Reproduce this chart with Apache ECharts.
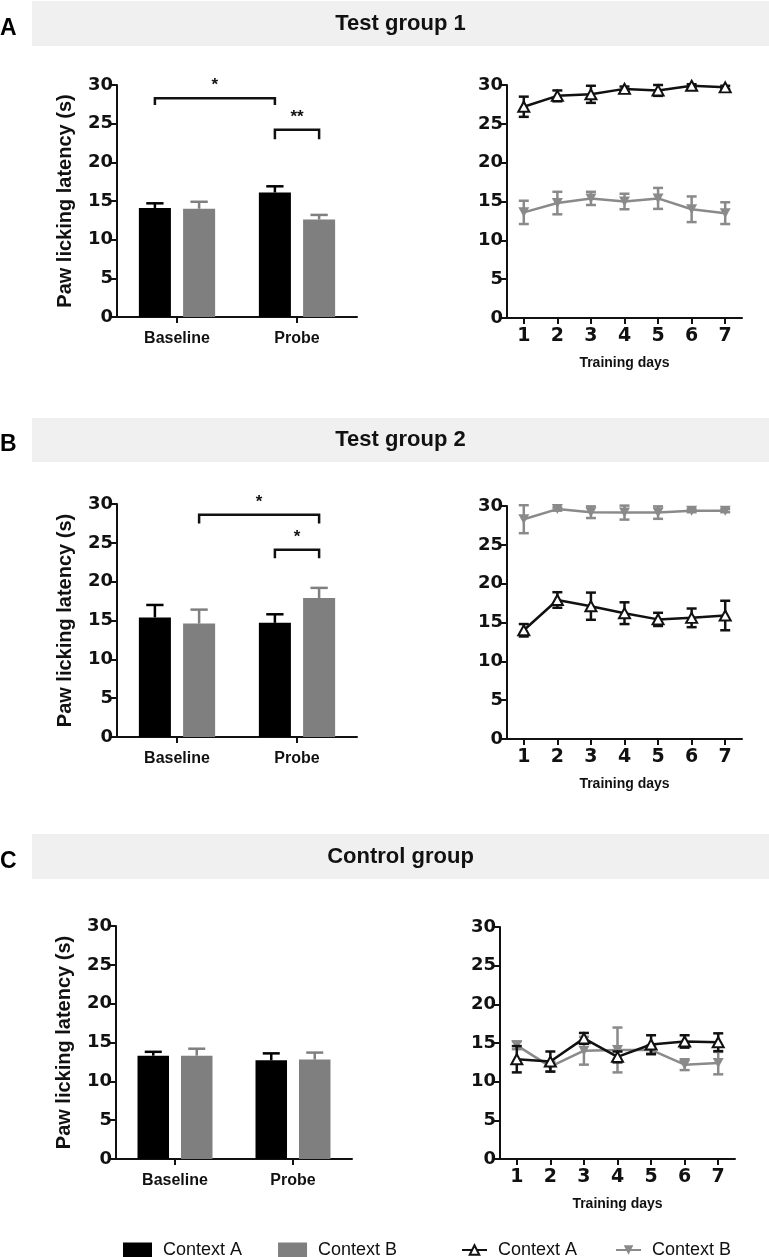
<!DOCTYPE html>
<html><head><meta charset="utf-8">
<script src="https://cdn.jsdelivr.net/npm/echarts@6/dist/echarts.min.js"></script>
<style>html,body{margin:0;padding:0;background:#fff}#c{width:769px;height:1257px}</style>
</head><body><div id="c"></div>
<script>
// ---------- DATA ----------
const barCategories = ['Baseline', 'Probe'];
const days = ['1', '2', '3', '4', '5', '6', '7'];
const panelTitles = ['Test group 1', 'Test group 2', 'Control group'];
const panelLetters = ['A', 'B', 'C'];

// Bar charts: mean and SEM (Baseline, Probe)
const barA_ctxA = [14.1, 16.1], barA_ctxA_err = [0.6, 0.8];
const barA_ctxB = [14.0, 12.6], barA_ctxB_err = [0.9, 0.6];
const barB_ctxA = [15.4, 14.7], barB_ctxA_err = [1.6, 1.1];
const barB_ctxB = [14.6, 17.9], barB_ctxB_err = [1.8, 1.3];
const barC_ctxA = [13.3, 12.7], barC_ctxA_err = [0.5, 0.9];
const barC_ctxB = [13.3, 12.8], barC_ctxB_err = [0.9, 0.9];

// Line charts: mean and SEM per training day
const lineA_ctxA = [27.2, 28.6, 28.8, 29.5, 29.3, 29.9, 29.7];
const lineA_ctxA_err = [1.3, 0.7, 1.1, 0.3, 0.7, 0.2, 0.2];
const lineA_ctxB = [13.6, 14.8, 15.4, 15.0, 15.4, 14.0, 13.5];
const lineA_ctxB_err = [1.5, 1.45, 0.85, 1.0, 1.35, 1.65, 1.4];
const lineB_ctxA = [14.0, 17.9, 17.1, 16.2, 15.4, 15.6, 15.9];
const lineB_ctxA_err = [0.8, 1.0, 1.75, 1.4, 0.85, 1.2, 1.9];
const lineB_ctxB = [28.3, 29.6, 29.2, 29.15, 29.15, 29.4, 29.4];
const lineB_ctxB_err = [1.8, 0.2, 0.75, 0.9, 0.8, 0.2, 0.2];
const lineC_ctxA = [12.9, 12.6, 15.6, 13.2, 14.8, 15.2, 15.1];
const lineC_ctxA_err = [1.7, 1.3, 0.7, 0.7, 1.2, 0.8, 1.15];
const lineC_ctxB = [14.7, 11.95, 14.0, 14.1, 14.1, 12.2, 12.4];
const lineC_ctxB_err = [0.5, 0.65, 1.8, 2.9, 0.6, 0.7, 1.45];

// Significance brackets: [category1, side1(-1=A,+1=B), category2, side2, bracket y, leg end y]
const sigA = [[0, -1, 1, -1, 28.3, 27.4], [1, -1, 1, 1, 24.2, 23.0]];
const sigA_labels = ['*', '**'];
const sigB = [[0, 1, 1, 1, 28.6, 27.5], [1, -1, 1, 1, 24.1, 23.0]];
const sigB_labels = ['*', '*'];
const sigC = [];
const sigC_labels = [];

const yMin = 0, yMax = 30, yInterval = 5;

// ---------- STYLE ----------
const BLACK = '#000000', GRAY = '#7f7f7f', LBLACK = '#111111', LGRAY = '#8a8a8a';
const BAR_W = 0.267, BAR_GAP = 0.38;
const barGrids = [
  { left: 117, top: 85, width: 240, height: 232 },
  { left: 117, top: 504, width: 240, height: 233 },
  { left: 116, top: 926, width: 236, height: 233 }
];
const lineGrids = [
  { left: 507, top: 85, width: 235, height: 233 },
  { left: 507, top: 506, width: 235, height: 233 },
  { left: 500, top: 927, width: 235, height: 232 }
];
const bands = [{ y: 1, h: 45 }, { y: 418, h: 44 }, { y: 834, h: 45 }];

const axisLineStyle = { color: LBLACK, width: 2 };
function yAxisDef(gi, withName) {
  const a = {
    type: 'value', gridIndex: gi, min: yMin, max: yMax, interval: yInterval,
    axisLine: { show: true, lineStyle: axisLineStyle },
    axisTick: { show: true, length: 6, lineStyle: { color: LBLACK, width: 2 } },
    splitLine: { show: false },
    axisLabel: { fontFamily: 'DejaVu Sans', fontWeight: 'bold', fontSize: 18, color: LBLACK, margin: 4 }
  };
  if (withName) {
    a.name = 'Paw licking latency (s)';
    a.nameLocation = 'middle';
    a.nameGap = 42;
    a.nameTextStyle = { fontFamily: 'Liberation Sans', fontWeight: 'bold', fontSize: 20, color: LBLACK };
  }
  return a;
}
function xBarAxis(gi) {
  return {
    type: 'category', gridIndex: gi, data: barCategories,
    axisLine: { show: true, lineStyle: axisLineStyle },
    axisTick: { show: true, alignWithLabel: true, length: 6, lineStyle: { color: LBLACK, width: 2 } },
    axisLabel: { fontFamily: 'Liberation Sans', fontWeight: 'bold', fontSize: 16, color: LBLACK, margin: 14 }
  };
}
function xLineAxis(gi) {
  return {
    type: 'category', gridIndex: gi, data: days,
    name: 'Training days', nameLocation: 'middle', nameGap: 38,
    nameTextStyle: { fontFamily: 'Liberation Sans', fontWeight: 'bold', fontSize: 14, color: LBLACK },
    axisLine: { show: true, lineStyle: axisLineStyle },
    axisTick: { show: true, alignWithLabel: true, length: 6, lineStyle: { color: LBLACK, width: 2 } },
    axisLabel: { fontFamily: 'DejaVu Sans', fontWeight: 'bold', fontSize: 19, color: LBLACK, margin: 9 }
  };
}

function barOffset(band, side) { return side * band * BAR_W * (1 + BAR_GAP) / 2; }

function barErrRender(side, color) {
  return function (params, api) {
    const cat = api.value(0), v = api.value(1), e = api.value(2);
    const band = api.size([1, 0])[0];
    const base = api.coord([cat, v]), top = api.coord([cat, v + e]);
    const x = base[0] + barOffset(band, side);
    const ch = band * BAR_W * 0.27;
    return { type: 'group', children: [
      { type: 'line', shape: { x1: x, y1: base[1], x2: x, y2: top[1] }, style: { stroke: color, lineWidth: 2.5 } },
      { type: 'line', shape: { x1: x - ch, y1: top[1], x2: x + ch, y2: top[1] }, style: { stroke: color, lineWidth: 2.5 } }
    ] };
  };
}
function lineErrRender(color) {
  return function (params, api) {
    const i = api.value(0), v = api.value(1), e = api.value(2);
    const p1 = api.coord([i, v + e]), p2 = api.coord([i, v - e]);
    const h = 5;
    const st = { stroke: color, lineWidth: 2.5 };
    return { type: 'group', children: [
      { type: 'line', shape: { x1: p1[0], y1: p1[1], x2: p2[0], y2: p2[1] }, style: st },
      { type: 'line', shape: { x1: p1[0] - h, y1: p1[1], x2: p1[0] + h, y2: p1[1] }, style: st },
      { type: 'line', shape: { x1: p2[0] - h, y1: p2[1], x2: p2[0] + h, y2: p2[1] }, style: st }
    ] };
  };
}
function sigRender(labels) {
  return function (params, api) {
    const c1 = api.value(0), s1 = api.value(1), c2 = api.value(2), s2 = api.value(3);
    const y = api.value(4), yd = api.value(5);
    const band = api.size([1, 0])[0];
    const a = api.coord([c1, y]), b = api.coord([c2, y]);
    const ad = api.coord([c1, yd]);
    const x1 = a[0] + barOffset(band, s1), x2 = b[0] + barOffset(band, s2);
    const st = { stroke: LBLACK, lineWidth: 2.5, fill: null };
    return { type: 'group', children: [
      { type: 'polyline', shape: { points: [[x1, ad[1]], [x1, a[1]], [x2, a[1]], [x2, ad[1]]] }, style: st },
      { type: 'text', style: { text: labels[params.dataIndex], x: (x1 + x2) / 2, y: a[1] - 4,
        align: 'center', verticalAlign: 'bottom', fontFamily: 'Liberation Sans', fontWeight: 'bold', fontSize: 17, fill: LBLACK } }
    ] };
  };
}

const barSets = [
  [barA_ctxA, barA_ctxA_err, barA_ctxB, barA_ctxB_err, sigA, sigA_labels],
  [barB_ctxA, barB_ctxA_err, barB_ctxB, barB_ctxB_err, sigB, sigB_labels],
  [barC_ctxA, barC_ctxA_err, barC_ctxB, barC_ctxB_err, sigC, sigC_labels]
];
const lineSets = [
  [lineA_ctxA, lineA_ctxA_err, lineA_ctxB, lineA_ctxB_err],
  [lineB_ctxA, lineB_ctxA_err, lineB_ctxB, lineB_ctxB_err],
  [lineC_ctxA, lineC_ctxA_err, lineC_ctxB, lineC_ctxB_err]
];

const grid = [], xAxis = [], yAxis = [], series = [], graphic = [];
for (let p = 0; p < 3; p++) {
  const gb = p * 2, gl = p * 2 + 1;
  grid.push(barGrids[p], lineGrids[p]);
  xAxis.push(xBarAxis(gb), xLineAxis(gl));
  yAxis.push(yAxisDef(gb, true), yAxisDef(gl, false));
  const [a, ae, b, be, sig, sigL] = barSets[p];
  series.push(
    { type: 'bar', name: 'Context A', xAxisIndex: gb, yAxisIndex: gb, data: a,
      barWidth: (BAR_W * 100) + '%', barGap: (BAR_GAP * 100) + '%', itemStyle: { color: BLACK } },
    { type: 'bar', name: 'Context B', xAxisIndex: gb, yAxisIndex: gb, data: b,
      barWidth: (BAR_W * 100) + '%', barGap: (BAR_GAP * 100) + '%', itemStyle: { color: GRAY } },
    { type: 'custom', name: 'errBarA' + p, xAxisIndex: gb, yAxisIndex: gb,
      data: a.map((v, i) => [i, v, ae[i]]), renderItem: barErrRender(-1, BLACK), z: 3 },
    { type: 'custom', name: 'errBarB' + p, xAxisIndex: gb, yAxisIndex: gb,
      data: b.map((v, i) => [i, v, be[i]]), renderItem: barErrRender(1, GRAY), z: 3 }
  );
  if (sig.length) {
    series.push({ type: 'custom', name: 'sig' + p, xAxisIndex: gb, yAxisIndex: gb,
      data: sig, renderItem: sigRender(sigL), z: 4 });
  }
  const [la, lae, lb, lbe] = lineSets[p];
  series.push(
    { type: 'custom', name: 'errLineB' + p, xAxisIndex: gl, yAxisIndex: gl,
      data: lb.map((v, i) => [i, v, lbe[i]]), renderItem: lineErrRender(LGRAY), z: 1 },
    { type: 'line', name: 'Context B ', xAxisIndex: gl, yAxisIndex: gl, data: lb,
      symbol: 'triangle', symbolRotate: 180, symbolSize: [11, 10],
      itemStyle: { color: LGRAY }, lineStyle: { color: LGRAY, width: 2.5 }, z: 2 },
    { type: 'custom', name: 'errLineA' + p, xAxisIndex: gl, yAxisIndex: gl,
      data: la.map((v, i) => [i, v, lae[i]]), renderItem: lineErrRender(LBLACK), z: 3 },
    { type: 'line', name: 'Context A ', xAxisIndex: gl, yAxisIndex: gl, data: la,
      symbol: 'triangle', symbolSize: [11, 10],
      itemStyle: { color: '#ffffff', borderColor: LBLACK, borderWidth: 2 },
      lineStyle: { color: LBLACK, width: 2.5 }, z: 4 }
  );
  // header band + titles
  graphic.push(
    { type: 'rect', left: 32, top: bands[p].y, shape: { width: 737, height: bands[p].h }, style: { fill: '#f0f0f0' } },
    { type: 'text', x: 400.5, y: bands[p].y + bands[p].h / 2,
      style: { text: panelTitles[p], align: 'center', verticalAlign: 'middle', fontFamily: 'Liberation Sans', fontWeight: 'bold', fontSize: 22, fill: LBLACK } },
    { type: 'text', x: 0, y: bands[p].y + bands[p].h / 2 + 5,
      style: { text: panelLetters[p], align: 'left', verticalAlign: 'middle', fontFamily: 'Liberation Sans', fontWeight: 'bold', fontSize: 23, fill: '#000' } }
  );
}

const legendText = { fontFamily: 'Liberation Sans', fontSize: 18, color: LBLACK, padding: [0, 0, 0, 6] };
const option = {
  animation: false,
  backgroundColor: '#ffffff',
  grid, xAxis, yAxis, series, graphic,
  legend: [
    { data: [{ name: 'Context A', icon: 'rect' }, { name: 'Context B', icon: 'rect' }],
      left: 118, top: 1236, itemWidth: 29, itemHeight: 15, itemGap: 36, selectedMode: false, textStyle: legendText },
    { data: ['Context A ', 'Context B '], formatter: n => n.trim(),
      left: 456, top: 1236, itemWidth: 25, itemHeight: 12, itemGap: 38, selectedMode: false, textStyle: legendText }
  ]
};
const chart = echarts.init(document.getElementById('c'), null, { renderer: 'canvas' });
chart.setOption(option);
</script></body></html>
